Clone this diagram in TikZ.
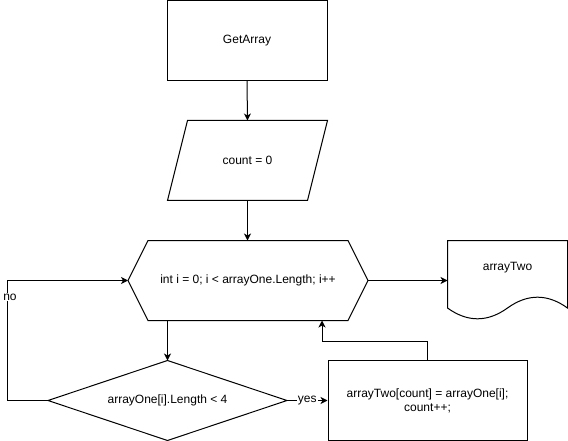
\documentclass[tikz,border=0pt]{standalone}
\usepackage{fontspec}
\setmainfont{Liberation Sans}
\usetikzlibrary{arrows.meta}
\begin{document}
\begin{tikzpicture}[x=1pt,y=-1pt,
  shape line/.style={draw=black,line width=1pt,line join=miter},
  boxnode/.style={shape line,rectangle,inner sep=0pt},
  label text/.style={font=\fontsize{12}{14}\selectfont,text=black,inner sep=0pt,align=center},
  flow/.style={draw=black,line width=1pt,-{Stealth[length=7pt,width=7pt,inset=2pt]}},
  edge label/.style={label text,fill=white,inner sep=1pt}]
\useasboundingbox (0,0) rectangle (568,441);
\fill[white] (0,0) rectangle (568,441);

% start block
\node[boxnode,minimum width=160pt,minimum height=80pt,label text] (get) at (247,40.5) {GetArray};

% input: count = 0
\draw[shape line] (187.5,120.5) -- (327.5,120.5) -- (307.5,200.5) -- (167.5,200.5) -- cycle;
\node[label text] (count) at (247.5,160.5) {count = 0};
\coordinate (countTop) at (247.5,120.5);
\coordinate (countBot) at (247.5,200.5);

% loop header (hexagon)
\draw[shape line] (128,280.5) -- (148,240.5) -- (348,240.5) -- (368,280.5) -- (348,320.5) -- (148,320.5) -- cycle;
\node[label text] (loop) at (248,280.5) {int i = 0; i < arrayOne.Length; i++};
\coordinate (loopTop) at (247.5,240.5);
\coordinate (loopL) at (128,280.5);
\coordinate (loopR) at (368,280.5);
\coordinate (loopB) at (167.5,320.5);
\coordinate (loopB2) at (322,320.5);

% output document
\draw[shape line] (447.5,240.5) -- (567.5,240.5) -- (567.5,308)
  .. controls (547.5,293.6) and (527.5,293.6) .. (507.5,308)
  .. controls (487.5,322.4) and (467.5,322.4) .. (447.5,308) -- cycle;
\node[label text] (out) at (507.5,268) {arrayTwo};
\coordinate (outL) at (447.5,280.5);

% condition (diamond)
\draw[shape line] (48,400.5) -- (167.5,360.5) -- (287,400.5) -- (167.5,440.5) -- cycle;
\node[label text] (cond) at (167.5,400.5) {arrayOne[i].Length < 4};
\coordinate (condT) at (167.5,360.5);
\coordinate (condL) at (48,400.5);
\coordinate (condR) at (287,400.5);

% loop body
\node[boxnode,minimum width=199pt,minimum height=80pt,label text] (body) at (427.5,400.5)
  {arrayTwo[count] = arrayOne[i];\\count++;};

% connectors
\draw[flow] (get.south) -- (countTop);
\draw[flow] (countBot) -- (loopTop);
\draw[flow] (loopR) -- (outL);
\draw[flow] (loopB) -- (condT);
\draw[flow] (condR) -- node[edge label] (yes) {yes} (body.west);
\draw[flow] (condL) -- (7.5,400.5) -- (7.5,280.5) -- (loopL);
\node[edge label] (no) at (10,297) {no};
\draw[flow] (body.north) -- (427.5,341.5) -- (322,341.5) -- (loopB2);
\end{tikzpicture}
\end{document}
